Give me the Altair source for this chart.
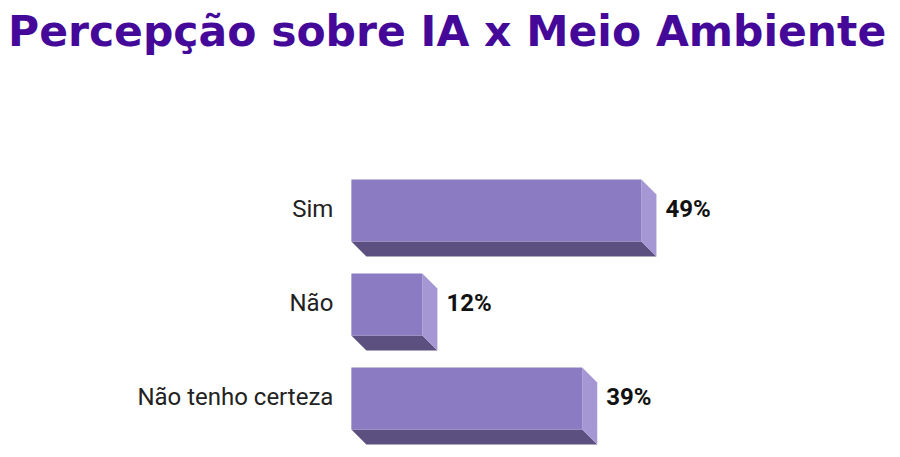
import altair as alt
import pandas as pd

# ---- data ----
categories = ["Sim", "Não", "Não tenho certeza"]
values = [49, 12, 39]
value_labels = ["49%", "12%", "39%"]
title_text = "Percepção sobre IA x Meio Ambiente"

# ---- styling / layout constants ----
FRONT = "#8B7BC3"
SIDE = "#A497D3"
BOTTOM = "#5C5081"
TITLE_COLOR = "#45099A"
PX_PER_PCT = 5.92
X_MIN, X_MAX = -58, 62          # scale domain (pct units)
ROW_PX = 94
N_ROWS = 3
PAD = 0.09                      # gap above front face, row units
THICK = 0.66                    # front face height, row units
DEPTH_X = 15 / PX_PER_PCT       # 3D depth in pct units
DEPTH_Y = 15 / ROW_PX           # 3D depth in row units

W = (X_MAX - X_MIN) * PX_PER_PCT
H = N_ROWS * ROW_PX

front_rows, side_rows, bottom_rows, cat_rows, val_rows = [], [], [], [], []
for i, (c, v, lab) in enumerate(zip(categories, values, value_labels)):
    top = i + PAD
    bot = top + THICK
    front_rows.append({"cat": c, "x0": 0, "x1": v, "top": top, "bot": bot})
    side_rows += [
        {"cat": c, "xx": v, "ya": top, "yb": bot},
        {"cat": c, "xx": v + DEPTH_X, "ya": top + DEPTH_Y, "yb": bot + DEPTH_Y},
    ]
    bottom_rows += [
        {"cat": c, "xx": 0, "ya": bot, "yb": bot},
        {"cat": c, "xx": DEPTH_X, "ya": bot, "yb": bot + DEPTH_Y},
        {"cat": c, "xx": v, "ya": bot, "yb": bot + DEPTH_Y},
        {"cat": c, "xx": v + DEPTH_X, "ya": bot + DEPTH_Y, "yb": bot + DEPTH_Y},
    ]
    cat_rows.append({"cat": c, "xx": 0, "ym": (top + bot) / 2})
    val_rows.append({"label": lab, "xx": v + DEPTH_X, "ym": (top + bot) / 2})

front_df = pd.DataFrame(front_rows)
side_df = pd.DataFrame(side_rows)
bottom_df = pd.DataFrame(bottom_rows)
cat_df = pd.DataFrame(cat_rows)
val_df = pd.DataFrame(val_rows)

xs = alt.Scale(domain=[X_MIN, X_MAX], nice=False, zero=False)
ys = alt.Scale(domain=[0, N_ROWS], nice=False, zero=False, reverse=True)


def face(df, color):
    return alt.Chart(df).mark_area(color=color, orient="vertical").encode(
        x=alt.X("xx:Q", scale=xs, axis=None),
        y=alt.Y("ya:Q", scale=ys, axis=None, stack=None),
        y2=alt.Y2("yb:Q"),
        detail="cat:N",
    )


bottom = face(bottom_df, BOTTOM)
side = face(side_df, SIDE)

front = alt.Chart(front_df).mark_rect(color=FRONT).encode(
    x=alt.X("x0:Q", scale=xs, axis=None),
    x2="x1:Q",
    y=alt.Y("top:Q", scale=ys, axis=None),
    y2="bot:Q",
)

cat_text = alt.Chart(cat_df).mark_text(
    align="right", baseline="middle", dx=-18, font="Roboto", fontSize=24, color="#222222"
).encode(
    x=alt.X("xx:Q", scale=xs, axis=None),
    y=alt.Y("ym:Q", scale=ys, axis=None),
    text="cat:N",
)

val_text = alt.Chart(val_df).mark_text(
    align="left", baseline="middle", dx=9, font="Roboto", fontSize=24,
    fontWeight="bold", color="#111111"
).encode(
    x=alt.X("xx:Q", scale=xs, axis=None),
    y=alt.Y("ym:Q", scale=ys, axis=None),
    text="label:N",
)

chart = alt.layer(bottom, side, front, cat_text, val_text).properties(
    width=W,
    height=H,
    padding={"top": 3, "left": 0, "right": 0, "bottom": 0},
    background="white",
    title=alt.TitleParams(
        text=title_text,
        anchor="start",
        frame="group",
        font="DejaVu Sans",
        fontSize=42.5,
        fontWeight="bold",
        color=TITLE_COLOR,
        offset=117,
    ),
).configure_view(stroke=None)

chart.save("out.html", embed_options={"renderer": "svg", "actions": False})
